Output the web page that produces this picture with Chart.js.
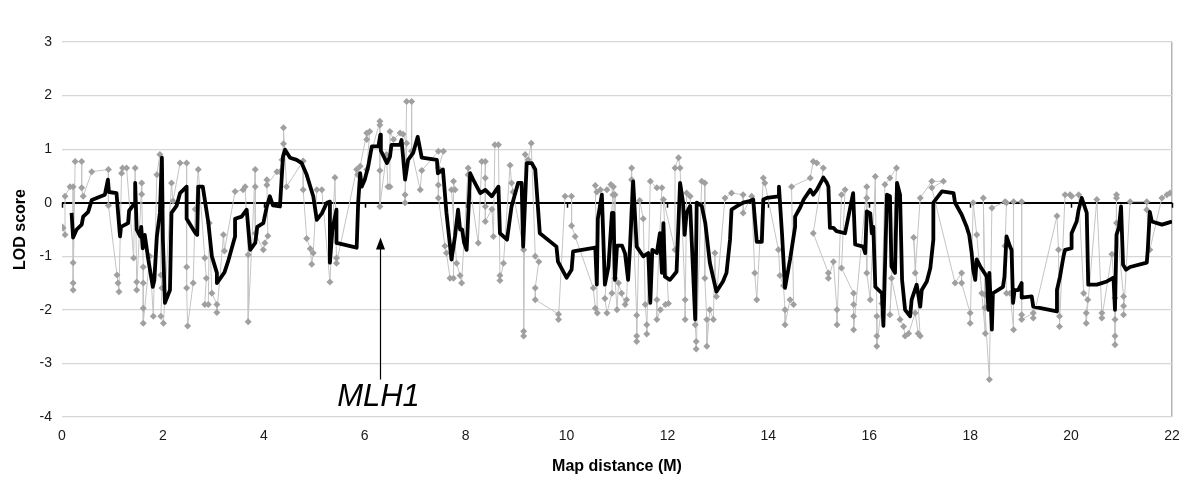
<!DOCTYPE html>
<html>
<head>
<meta charset="utf-8">
<script src="https://cdn.jsdelivr.net/npm/chart.js@4"></script>
<style>
  body { margin: 0; background: #fff; }
  #wrap { width: 1200px; height: 492px; }
</style>
</head>
<body>
<div id="wrap"><canvas id="lodChart" width="1200" height="492"></canvas></div>
<script>
// x axis: map distance (M), y axis: LOD score
const xTicks = [0, 2, 4, 6, 8, 10, 12, 14, 16, 18, 20, 22];
const yTicks = [-4, -3, -2, -1, 0, 1, 2, 3];

// smoothed LOD curve (black)
const smoothX = [0.19,0.22,0.29,0.39,0.42,0.52,0.59,0.85,0.91,0.93,1.08,1.15,1.17,1.31,1.33,1.45,1.45,1.48,1.55,1.57,1.6,1.64,1.71,1.8,1.83,1.88,1.94,1.98,2.0,2.04,2.14,2.17,2.27,2.34,2.47,2.47,2.64,2.68,2.7,2.79,2.9,2.97,3.07,3.07,3.22,3.29,3.43,3.43,3.56,3.66,3.73,3.83,3.87,3.99,4.06,4.12,4.18,4.32,4.38,4.42,4.52,4.65,4.75,4.85,4.98,5.05,5.15,5.25,5.31,5.31,5.36,5.44,5.44,5.84,5.87,5.91,5.94,6.0,6.07,6.14,6.27,6.31,6.32,6.44,6.5,6.53,6.7,6.73,6.8,6.86,6.96,7.05,7.13,7.43,7.45,7.55,7.62,7.72,7.79,7.85,7.89,7.93,7.97,8.02,8.09,8.15,8.29,8.39,8.52,8.65,8.68,8.82,8.91,9.04,9.11,9.14,9.21,9.31,9.38,9.47,9.8,9.83,10.0,10.1,10.13,10.57,10.6,10.62,10.7,10.76,10.83,10.9,10.93,10.96,11.0,11.1,11.16,11.22,11.26,11.29,11.32,11.39,11.52,11.62,11.66,11.7,11.79,11.85,11.89,11.92,11.95,12.05,12.18,12.25,12.31,12.34,12.38,12.45,12.55,12.58,12.68,12.75,12.84,12.97,13.1,13.17,13.24,13.27,13.37,13.5,13.63,13.7,13.77,13.87,13.9,13.97,14.2,14.21,14.27,14.33,14.43,14.53,14.53,14.63,14.7,14.83,14.89,14.96,15.09,15.16,15.19,15.22,15.29,15.35,15.52,15.68,15.72,15.88,15.92,15.95,16.02,16.05,16.08,16.12,16.25,16.28,16.35,16.41,16.44,16.51,16.55,16.61,16.65,16.71,16.81,16.84,16.94,17.01,17.04,17.14,17.21,17.27,17.27,17.44,17.67,17.7,17.83,17.93,17.98,18.03,18.06,18.1,18.13,18.2,18.33,18.36,18.38,18.43,18.45,18.65,18.68,18.72,18.79,18.82,18.85,18.88,18.95,19.02,19.02,19.22,19.25,19.72,19.72,19.78,19.85,19.88,20.01,20.01,20.11,20.15,20.21,20.31,20.34,20.51,20.71,20.84,20.87,20.9,20.95,20.99,21.03,21.09,21.17,21.5,21.52,21.56,21.6,21.8,21.9,22.0];
const smoothY = [-0.19,-0.65,-0.5,-0.41,-0.26,-0.17,0.05,0.15,0.43,0.2,0.18,-0.63,-0.45,-0.38,-0.15,0.0,0.37,-0.5,-0.63,-0.45,-0.85,-0.6,-1.06,-1.57,-1.45,-0.63,-0.19,0.84,-0.7,-1.87,-1.63,-0.19,-0.06,0.18,0.3,-0.3,-0.56,-0.6,0.3,0.3,-0.37,-1.0,-1.31,-1.5,-1.3,-1.1,-0.63,-0.3,-0.26,-0.13,-0.88,-0.75,-0.45,-0.38,-0.07,0.12,-0.05,-0.07,0.86,0.99,0.84,0.8,0.74,0.52,0.12,-0.32,-0.2,0.0,0.02,-1.12,-0.5,-0.13,-0.75,-0.84,0.0,0.55,0.3,0.43,0.68,1.05,1.05,1.27,0.97,0.74,0.86,1.08,1.08,1.17,0.43,0.8,0.93,1.23,0.84,0.8,0.55,0.62,-0.19,-1.06,-0.62,-0.13,-0.5,-0.5,-0.75,-0.88,0.55,0.43,0.18,0.24,0.12,0.3,-0.57,-0.69,-0.07,0.37,0.37,-0.82,0.74,0.74,0.62,-0.57,-0.82,-1.1,-1.4,-1.25,-0.91,-0.84,-1.53,-0.3,0.15,-1.53,-1.2,-0.19,-0.19,-1.44,-0.8,-0.8,-0.95,-1.44,-0.8,-0.19,0.4,-0.82,-1.0,-0.94,-1.87,-0.88,-0.94,-0.57,-1.31,-0.38,-1.38,-1.44,-1.29,0.37,0.0,-0.6,-0.19,-0.06,-2.18,0.0,-0.06,-0.38,-1.12,-1.66,-1.47,-1.31,-0.69,-0.13,-0.07,0.0,0.03,0.06,-0.73,-0.73,0.06,0.09,0.12,0.3,-0.57,-1.59,-1.06,-0.45,-0.26,-0.09,0.06,0.24,0.15,0.24,0.47,0.37,0.3,-0.47,-0.47,-0.53,-0.57,0.18,-0.78,-0.82,-0.94,-0.16,-0.2,-0.57,-0.45,-1.57,-1.69,-2.3,0.15,0.12,-1.19,-1.31,0.37,0.15,-1.44,-2.0,-2.12,-1.81,-1.53,-1.94,-1.63,-1.47,-1.22,-0.69,0.0,0.21,0.18,0.0,-0.22,-0.45,-0.6,-0.94,-1.25,-1.44,-1.06,-1.19,-1.38,-2.0,-1.31,-2.37,-1.69,-1.57,-1.38,-0.63,-0.82,-0.88,-1.87,-1.63,-1.63,-1.5,-1.77,-1.75,-1.94,-2.03,-1.63,-1.38,-1.0,-0.88,-0.85,-0.57,-0.35,-0.13,0.09,-0.19,-1.53,-1.53,-1.47,-1.4,-2.0,-0.6,-0.45,-0.07,-1.16,-1.25,-1.2,-1.12,-0.88,-0.17,-0.35,-0.41,-0.38,-0.35];

// single-marker LOD scores (grey)
const markerX = [0.0,0.02,0.06,0.06,0.16,0.22,0.22,0.22,0.22,0.26,0.39,0.39,0.42,0.59,0.92,0.92,1.09,1.11,1.13,1.18,1.2,1.28,1.42,1.45,1.48,1.48,1.58,1.58,1.61,1.61,1.61,1.61,1.74,1.81,1.88,1.94,1.96,1.98,1.96,2.01,2.17,2.2,2.34,2.47,2.47,2.47,2.49,2.6,2.64,2.7,2.83,2.86,2.83,2.9,2.92,2.97,3.07,3.07,3.2,3.22,3.43,3.59,3.63,3.69,3.69,3.83,3.83,3.83,3.99,4.02,4.08,4.06,4.06,4.26,4.32,4.36,4.39,4.39,4.45,4.78,4.78,4.85,4.92,4.95,4.98,5.05,5.15,5.31,5.41,5.44,5.44,5.84,5.86,5.91,6.04,6.04,6.1,6.04,6.3,6.3,6.3,6.3,6.43,6.46,6.5,6.5,6.57,6.7,6.76,6.83,6.8,6.8,6.83,6.93,6.93,7.1,7.13,7.46,7.56,7.46,7.46,7.46,7.59,7.62,7.69,7.76,7.76,7.79,7.72,7.82,7.89,7.92,8.05,8.05,8.25,8.32,8.39,8.39,8.39,8.39,8.52,8.55,8.58,8.65,8.68,8.68,8.75,8.88,8.91,8.94,9.15,9.15,9.15,9.18,9.24,9.3,9.38,9.45,9.38,9.38,9.84,9.84,9.97,10.1,10.1,10.17,10.53,10.57,10.61,10.57,10.6,10.67,10.8,10.88,10.92,10.76,10.8,10.9,10.93,10.96,10.96,11.0,11.03,11.09,11.16,11.19,11.29,11.29,11.39,11.39,11.39,11.45,11.52,11.56,11.59,11.59,11.66,11.79,11.89,11.79,11.79,11.86,11.96,12.02,11.92,12.15,12.15,12.22,12.25,12.35,12.35,12.38,12.45,12.55,12.57,12.57,12.68,12.74,12.74,12.78,12.78,12.84,12.91,12.94,12.97,13.14,13.27,13.5,13.5,13.67,13.73,13.77,13.9,13.93,14.2,14.23,14.3,14.33,14.33,14.43,14.5,14.46,14.83,14.89,14.96,15.09,14.89,15.19,15.19,15.29,15.36,15.36,15.45,15.52,15.45,15.69,15.69,15.69,15.69,15.95,15.95,15.95,16.02,16.12,16.15,16.15,16.15,16.25,16.31,16.41,16.54,16.41,16.44,16.61,16.68,16.71,16.78,16.91,16.97,17.01,16.88,16.91,17.01,17.24,17.47,17.24,17.7,17.83,17.83,18.0,18.0,18.06,18.13,18.23,18.3,18.26,18.29,18.29,18.38,18.43,18.69,18.72,18.69,18.72,18.79,18.86,18.86,19.02,19.02,19.02,19.25,19.25,19.72,19.75,19.77,19.77,19.88,19.98,20.01,20.15,20.25,20.33,20.3,20.3,20.51,20.61,20.61,20.81,20.87,20.87,20.87,20.87,20.9,20.9,20.9,21.04,21.04,21.04,21.17,21.5,21.5,21.56,21.8,21.9,21.96];
const markerY = [-0.45,-0.47,-0.6,0.12,0.3,0.3,-1.12,-1.5,-1.63,0.77,0.77,0.28,0.12,0.58,0.62,-0.05,-1.35,-1.5,-1.66,0.55,0.65,0.65,-1.03,0.65,-1.48,-1.63,0.37,0.16,-1.2,-1.5,-1.97,-2.25,-1.0,-2.12,0.52,0.9,-1.35,-1.59,-2.12,-2.25,0.37,0.03,0.74,0.74,-1.2,-1.59,-2.3,-1.5,-0.12,0.62,-1.03,-1.41,-1.9,-1.9,-0.38,-1.69,-1.9,-2.05,-0.6,-0.9,0.21,0.24,0.3,-0.97,-2.22,0.62,0.3,-0.57,-0.88,-0.75,-0.62,0.43,0.33,0.58,0.58,0.8,1.1,1.4,0.3,0.78,0.24,-0.67,-0.86,-1.15,-0.94,0.24,0.24,-1.48,0.47,-1.03,-1.13,0.62,0.52,0.68,1.3,1.18,1.33,0.62,1.52,1.45,0.6,-0.07,0.9,0.3,0.3,1.33,1.18,1.3,1.28,1.11,0.15,0.0,1.89,1.89,0.96,0.24,0.6,0.96,0.96,0.65,0.33,0.09,-0.81,-0.94,-1.41,-1.41,0.4,0.24,0.24,-1.13,-1.36,-1.5,0.65,0.52,-0.75,0.77,0.77,0.46,-0.07,-0.35,-0.12,-0.63,1.08,1.08,-1.36,-1.45,-1.13,0.7,0.37,0.2,-0.88,-2.4,-2.49,0.9,0.8,1.11,-1.0,-1.1,-1.59,-1.81,-2.08,-2.18,0.12,0.12,-0.43,-0.63,-1.59,-1.97,-2.06,0.32,0.2,0.24,0.24,0.34,0.15,-1.79,-2.06,-1.69,0.3,0.15,-1.41,-2.0,-1.5,-1.69,-1.9,-1.81,0.65,0.43,-2.1,-2.49,-2.59,0.04,-0.3,-1.9,-2.28,-2.45,0.4,0.28,0.28,-1.81,-2.18,-2.0,-1.9,-1.88,0.06,-0.88,0.65,0.84,0.65,-1.81,-2.18,0.18,0.12,-2.28,-2.59,-2.73,0.4,0.37,-1.41,-2.18,-2.68,-2.0,-2.18,-0.94,-1.75,0.09,0.18,0.15,-0.19,0.12,-1.31,-1.81,0.46,0.37,-0.88,-1.36,-1.55,-2.0,-2.28,-1.81,-1.9,0.3,0.46,0.77,0.74,0.65,-0.57,-1.31,-1.41,-1.1,-2.0,-2.28,0.15,0.24,-1.22,-1.69,-1.9,-2.12,-2.37,0.3,0.09,-1.31,-1.81,0.49,-2.12,-2.49,-2.68,-1.88,0.34,0.46,0.65,-2.09,-1.41,-2.18,-2.31,-2.49,-2.44,-2.06,-2.44,-2.49,-0.65,-1.31,0.09,0.4,0.4,0.28,-1.5,-1.31,-1.5,-2.06,-2.25,0.0,-0.6,-1.69,-2.44,0.09,-1.72,-1.96,-3.3,-0.1,0.02,0.0,-0.81,-1.69,-1.69,-2.37,0.02,0.02,-2.09,-2.18,-2.06,-2.15,-0.25,-0.88,-2.12,-2.31,0.15,0.15,0.12,0.15,-1.69,-1.81,-2.06,-2.25,0.06,-2.06,-2.15,-0.96,-1.78,-2.18,-2.49,-2.65,0.15,0.09,-0.38,-1.75,-1.93,-2.09,0.02,0.02,-0.13,-0.88,0.09,0.15,0.18];

// gene marked on the map
const geneName = "MLH1";
const genePos = 6.3;

function toPoints(xs, ys) {
    return xs.map((x, i) => ({ x: x, y: ys[i] }));
}

const fontFamily = "'Liberation Sans', Arial, sans-serif";

const extras = {
    id: "extras",
    beforeDatasetsDraw(chart) {
        // little tick marks hanging from the zero line
        const { ctx, scales: { x, y } } = chart;
        const py = y.getPixelForValue(0);
        ctx.save();
        ctx.strokeStyle = "#000";
        ctx.lineWidth = 1.5;
        xTicks.forEach(t => {
            const px = Math.round(x.getPixelForValue(t)) + 0.5;
            ctx.beginPath();
            ctx.moveTo(px, py);
            ctx.lineTo(px, py + 5);
            ctx.stroke();
        });
        ctx.restore();
    },
    afterDatasetsDraw(chart) {
        const { ctx, scales: { x, y } } = chart;
        const px = Math.round(x.getPixelForValue(genePos)) + 0.5;
        const tip = y.getPixelForValue(-0.65);
        const tail = y.getPixelForValue(-3.3);
        ctx.save();
        ctx.strokeStyle = "#000";
        ctx.fillStyle = "#000";
        ctx.lineWidth = 1.2;
        ctx.beginPath();
        ctx.moveTo(px, tail);
        ctx.lineTo(px, tip + 8);
        ctx.stroke();
        ctx.beginPath();
        ctx.moveTo(px, tip);
        ctx.lineTo(px - 4.5, tip + 12);
        ctx.lineTo(px + 4.5, tip + 12);
        ctx.closePath();
        ctx.fill();
        ctx.font = "italic 31px " + fontFamily;
        ctx.textAlign = "center";
        ctx.textBaseline = "alphabetic";
        ctx.fillText(geneName, px - 2, y.getPixelForValue(-3.8));
        ctx.restore();
    }
};

new Chart(document.getElementById("lodChart").getContext("2d"), {
    type: "scatter",
    data: {
        datasets: [
            {
                label: "Smoothed LOD",
                data: toPoints(smoothX, smoothY),
                showLine: true,
                borderColor: "#000",
                borderWidth: 3.8,
                borderJoinStyle: "round",
                pointRadius: 0,
                tension: 0,
                order: 1
            },
            {
                label: "Marker LOD",
                data: toPoints(markerX, markerY),
                showLine: true,
                borderColor: "#c4c4c4",
                borderWidth: 1,
                pointStyle: "rectRot",
                pointRadius: 3.5,
                pointBackgroundColor: "#a0a0a0",
                pointBorderColor: "#a0a0a0",
                pointBorderWidth: 0,
                tension: 0,
                order: 2
            }
        ]
    },
    options: {
        responsive: false,
        animation: false,
        devicePixelRatio: 1,
        layout: { padding: { left: 0, right: 28, top: 42, bottom: 0 } },
        plugins: {
            legend: { display: false },
            tooltip: { enabled: false }
        },
        scales: {
            x: {
                type: "linear",
                min: 0,
                max: 22,
                afterFit: s => { s.height = 75; },
                afterBuildTicks: s => { s.ticks = xTicks.map(v => ({ value: v })); },
                ticks: {
                    padding: 11,
                    maxRotation: 0,
                    color: "#1a1a1a",
                    font: { family: fontFamily, size: 14 }
                },
                grid: {
                    drawTicks: false,
                    color: c => (c.tick && c.tick.value === 22 ? "#b3b3b3" : "rgba(0,0,0,0)"),
                    lineWidth: 1.5
                },
                border: { display: false },
                title: {
                    display: true,
                    text: "Map distance (M)",
                    color: "#000",
                    font: { family: fontFamily, size: 16, weight: "bold" },
                    padding: { top: 0, bottom: 16 }
                }
            },
            y: {
                type: "linear",
                min: -4,
                max: 3,
                afterFit: s => { s.width = 62; },
                afterBuildTicks: s => { s.ticks = yTicks.map(v => ({ value: v })); },
                ticks: {
                    padding: 10,
                    color: "#1a1a1a",
                    font: { family: fontFamily, size: 14 }
                },
                grid: {
                    drawTicks: false,
                    color: c => (c.tick && c.tick.value === 0 ? "#000" : "#d6d6d6"),
                    lineWidth: c => (c.tick && c.tick.value === 0 ? 2 : 1.2)
                },
                border: { display: false },
                title: {
                    display: true,
                    text: "LOD score",
                    color: "#000",
                    font: { family: fontFamily, size: 16, weight: "bold" },
                    padding: { top: 11, bottom: 0 }
                }
            }
        }
    },
    plugins: [extras]
});
</script>
</body>
</html>
